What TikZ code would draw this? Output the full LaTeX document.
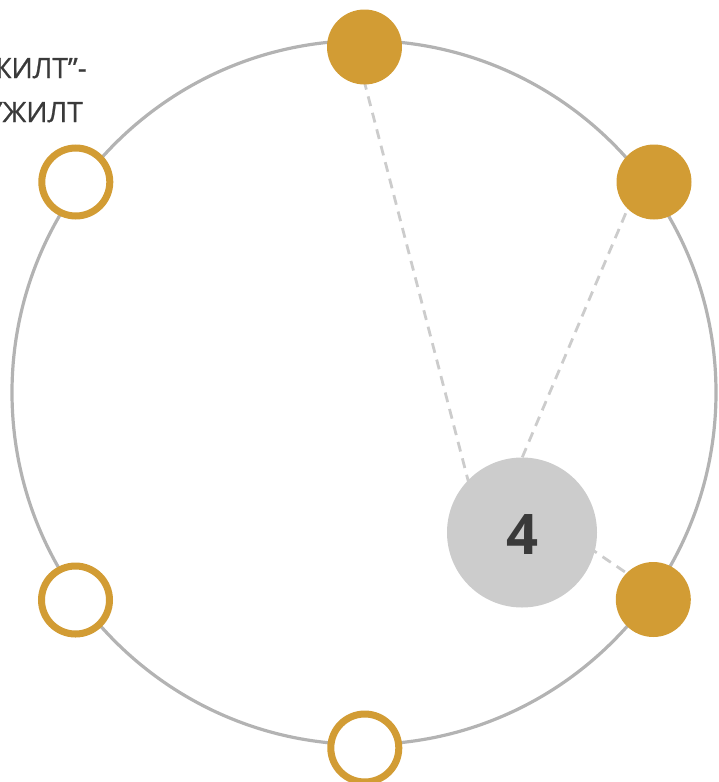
\documentclass[tikz,border=0pt]{standalone}
\usepackage{fontspec}
\setmainfont{Open Sans}
\newfontfamily\lblfont[FakeBold=0.8]{Open Sans}
\definecolor{gold}{HTML}{D29C34}
\definecolor{ringgray}{HTML}{B3B3B3}
\definecolor{hubgray}{HTML}{CCCCCC}
\definecolor{txt}{HTML}{3A3A3A}
\begin{document}
\begin{tikzpicture}[x=1pt,y=-1pt,
  filled/.style={circle,fill=gold,minimum size=75pt,inner sep=0pt},
  hollow/.style={circle,draw=gold,line width=7pt,fill=white,minimum size=68pt,inner sep=0pt},
  link/.style={draw=hubgray,line width=2.8pt,dash pattern=on 10pt off 7pt},
  hub/.style={circle,fill=hubgray,minimum size=150pt,inner sep=0pt},
  lbl/.style={text=txt,font=\lblfont\fontsize{28}{42}\selectfont,inner sep=0pt}]
\useasboundingbox (0,0) rectangle (718,782);
\begin{scope}
\clip (0,0) rectangle (718,782);
% big circle
\node[circle,draw=ringgray,line width=3.2pt,minimum size=704pt,inner sep=0pt] (ring) at (364,392.5) {};
% link endpoints
\coordinate (s1) at (355.3,47);
\coordinate (e1) at (481.5,532);
\coordinate (s2) at (639,182);
\coordinate (e2) at (490.6,532);
\coordinate (s3) at (653,591);
\coordinate (e3) at (522,502);
\draw[link] (s1) -- (e1);
\draw[link] (s2) -- (e2);
\draw[link] (s3) -- (e3);
% outer nodes
\node[filled] (n1) at (364.5,47) {};
\node[filled] (n2) at (654,182) {};
\node[filled] (n3) at (653.3,599.5) {};
\node[hollow] (n4) at (364.8,748) {};
\node[hollow] (n5) at (75.5,600) {};
\node[hollow] (n6) at (75.8,182) {};
% hub
\node[hub] (hub) at (522,532.5) {};
\node[text=txt,font=\fontsize{56}{60}\selectfont\bfseries,inner sep=0pt] (four) at (522,535) {4};
% text
\node[lbl,anchor=base east] (t1) at (87,78) {ЖИЛТ”-};
\node[lbl,anchor=base east] (t2) at (83,122) {ҮЖИЛТ};
\end{scope}
\end{tikzpicture}
\end{document}
